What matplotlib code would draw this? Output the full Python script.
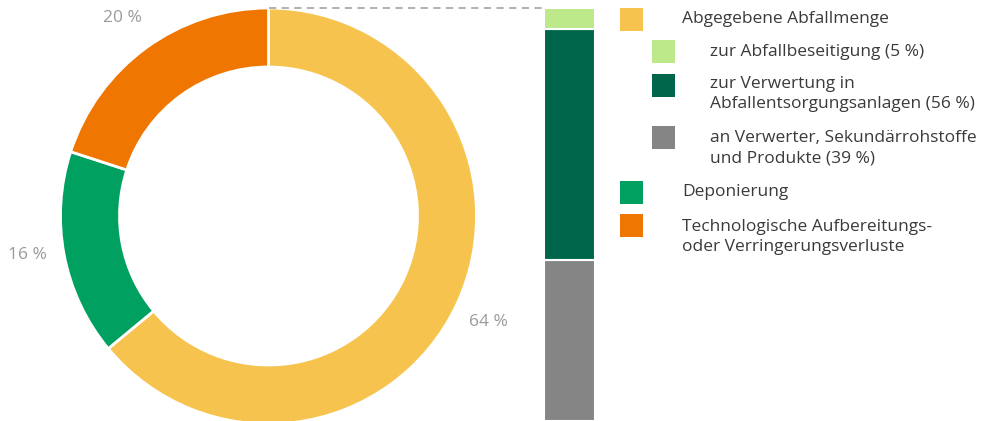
import matplotlib
matplotlib.use("Agg")

import matplotlib.pyplot as plt
from matplotlib.patches import Rectangle

plt.rcParams["font.family"] = ["Open Sans", "DejaVu Sans"]

# donut: share of the total waste
donut_labels = ["Abgegebene Abfallmenge", "Deponierung",
                "Technologische Aufbereitungs-\noder Verringerungsverluste"]
donut_values = [64, 16, 20]
donut_colors = ["#F6C44E", "#00A060", "#EF7600"]

# bar: breakdown of "Abgegebene Abfallmenge"
bar_labels = ["zur Abfallbeseitigung (5 %)",
              "zur Verwertung in\nAbfallentsorgungsanlagen (56 %)",
              "an Verwerter, Sekundärrohstoffe\nund Produkte (39 %)"]
bar_values = [5, 56, 39]
bar_colors = ["#BEE98A", "#00664B", "#858585"]

W, H = 984, 421
fig = plt.figure(figsize=(W / 100, H / 100), dpi=100)
ax = fig.add_axes([0, 0, 1, 1])

R = 208
cx, cy = 268.5, H - 216
ax.pie(donut_values, colors=donut_colors, startangle=90, counterclock=False,
       radius=R, center=(cx, cy), frame=True,
       wedgeprops=dict(width=59, edgecolor="white", linewidth=2))

label_pos = [(488, 322), (27, 255), (122, 18)]
for v, (x, y) in zip(donut_values, label_pos):
    ax.text(x, H - y, f"{v} %", color="#9a9a9a", fontsize=12.5,
            ha="center", va="center")

# stacked bar, light green on top
bar_total = 413
bx, bw = 569.5, 51
bottom = 0
for v, c in zip(reversed(bar_values), reversed(bar_colors)):
    h = v / 100 * bar_total
    ax.bar(bx, h, width=bw, bottom=bottom, color=c, edgecolor="white",
           linewidth=1.5)
    bottom += h

ax.plot([cx, bx - bw / 2], [H - 8, H - 8], ls=(0, (4, 3)), color="#aaaaaa",
        lw=1.3)

# legend
txt = "#3a3a3a"
fs = 12.5
rows = [
    (620, 8, donut_colors[0], 682, 19, donut_labels[0]),
    (652, 40, bar_colors[0], 710, 52, bar_labels[0]),
    (652, 74, bar_colors[1], 710, 94, bar_labels[1]),
    (652, 126, bar_colors[2], 710, 148, bar_labels[2]),
    (620, 181, donut_colors[1], 682, 192, donut_labels[1]),
    (620, 214, donut_colors[2], 682, 237, donut_labels[2]),
]
for sx, sy, c, tx, ty, lab in rows:
    ax.add_patch(Rectangle((sx, H - sy - 23), 23, 23, color=c, lw=0))
    ax.text(tx, H - ty, lab, color=txt, fontsize=fs, ha="left", va="center",
            linespacing=1.35)

ax.set_xlim(0, W)
ax.set_ylim(0, H)
ax.set_aspect("equal")
ax.axis("off")

fig.savefig("out.png", dpi=100)
